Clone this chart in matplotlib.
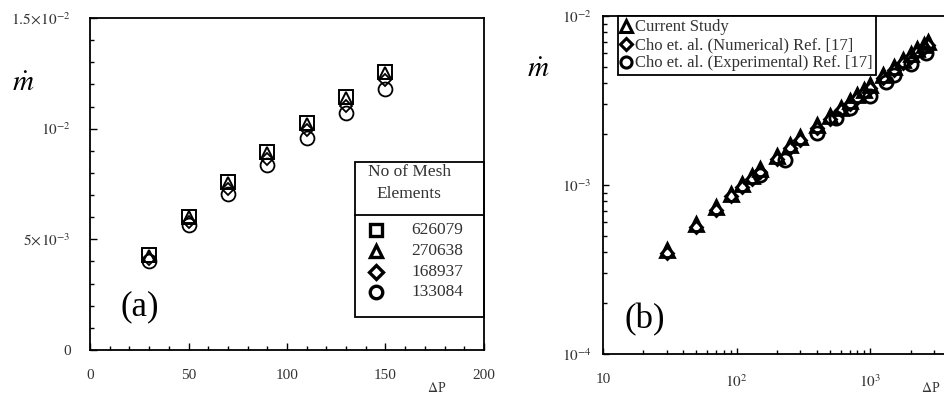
import matplotlib
matplotlib.use('Agg')
import matplotlib.pyplot as plt
from matplotlib.patches import Rectangle
from matplotlib.lines import Line2D
import numpy as np

plt.rcParams['font.family'] = ['Liberation Serif', 'DejaVu Serif']
plt.rcParams['mathtext.fontset'] = 'stix'

# (a) mesh independence study
dp_mesh = [30, 50, 70, 90, 110, 130, 150]
mesh_labels = ['626079', '270638', '168937', '133084']
m_626079 = [0.00430, 0.00603, 0.00757, 0.00893, 0.01026, 0.01142, 0.01255]
m_270638 = [0.00425, 0.00600, 0.00754, 0.00890, 0.01023, 0.01137, 0.01252]
m_168937 = [0.00410, 0.00580, 0.00727, 0.00864, 0.00992, 0.01104, 0.01219]
m_133084 = [0.00400, 0.00563, 0.00706, 0.00837, 0.00958, 0.01071, 0.01180]

# (b) validation against Cho et al.
dp_current = [30, 50, 70, 90, 110, 130, 150, 200, 250, 300, 400, 500, 600,
              700, 800, 900, 1000, 1250, 1500, 1750, 2000, 2250, 2500, 2700]
m_current = [4.10e-4, 5.85e-4, 7.40e-4, 8.85e-4, 1.01e-3, 1.13e-3, 1.25e-3,
             1.49e-3, 1.72e-3, 1.92e-3, 2.25e-3, 2.57e-3, 2.87e-3, 3.15e-3,
             3.41e-3, 3.66e-3, 3.90e-3, 4.46e-3, 4.98e-3, 5.46e-3, 5.92e-3,
             6.35e-3, 6.77e-3, 7.05e-3]
dp_num = [30, 50, 70, 90, 110, 130, 150, 200, 250, 300, 400, 500, 600,
          700, 800, 900, 1000, 1250, 1500, 1750, 2000, 2250, 2500, 2700]
m_num = [3.95e-4, 5.65e-4, 7.15e-4, 8.55e-4, 9.75e-4, 1.09e-3, 1.20e-3,
         1.43e-3, 1.65e-3, 1.85e-3, 2.17e-3, 2.47e-3, 2.76e-3, 3.03e-3,
         3.28e-3, 3.52e-3, 3.75e-3, 4.29e-3, 4.79e-3, 5.25e-3, 5.69e-3,
         6.10e-3, 6.50e-3, 6.78e-3]
dp_exp = [150, 230, 400, 550, 700, 1000, 1300, 1500, 2000, 2600]
m_exp = [1.15e-3, 1.41e-3, 2.03e-3, 2.48e-3, 2.85e-3, 3.34e-3, 4.05e-3,
         4.45e-3, 5.20e-3, 6.00e-3]

fig = plt.figure(figsize=(9.44, 3.96), dpi=100)

# ---------- panel (a) ----------
ax1 = fig.add_axes([90/944, 46/396, 394/944, 332/396])
kw = dict(ls='none', mfc='none', mec='black', color='black')
ax1.plot(dp_mesh, m_626079, marker='s', ms=10, mew=1.4, **kw)
ax1.plot(dp_mesh, m_270638, marker='^', ms=8, mew=1.4, **kw)
ax1.plot(dp_mesh, m_168937, marker='D', ms=6.5, mew=1.3, **kw)
ax1.plot(dp_mesh, m_133084, marker='o', ms=10, mew=1.3, **kw)

ax1.set_xlim(0, 200)
ax1.set_ylim(0, 0.015)
ax1.set_xticks([0, 50, 100, 150, 200])
ax1.set_xticks(np.arange(0, 201, 10), minor=True)
ax1.set_yticks([0, 0.005, 0.01, 0.015])
ax1.set_yticklabels(['0', r'$5\!\times\!10^{-3}$', r'$10^{-2}$', r'$1.5\!\times\!10^{-2}$'])
ax1.set_yticks(np.arange(0, 0.0151, 0.001), minor=True)
ax1.tick_params(which='both', direction='in', colors='black', labelcolor='#333333',
                labelsize=11)
ax1.tick_params(axis='x', which='both', pad=14)
ax1.tick_params(axis='y', which='both', pad=14)
ax1.tick_params(which='major', length=5, width=1)
ax1.tick_params(which='minor', length=3, width=1)
for s in ax1.spines.values():
    s.set_linewidth(1.3)

ax1.text(-0.17, 0.80, r'$\dot{m}$', transform=ax1.transAxes, fontsize=21,
         ha='center', va='center')
ax1.text(0.88, -0.115, r'$\Delta$P', transform=ax1.transAxes, fontsize=10,
         ha='center', va='center', color='#333333')
ax1.text(0.125, 0.13, '(a)', transform=ax1.transAxes, fontsize=25,
         ha='center', va='center')

# legend box with title row
ax1.add_patch(Rectangle((0.6726, 0.0994), 0.3274, 0.4669, transform=ax1.transAxes,
                        fill=False, ec='black', lw=1.3, clip_on=False))
ax1.plot([0.6726, 1.0], [0.4066, 0.4066], transform=ax1.transAxes, color='black', lw=1.3)
ax1.text(0.81, 0.535, 'No of Mesh', transform=ax1.transAxes, fontsize=12.5,
         ha='center', va='center', color='#333333')
ax1.text(0.81, 0.470, 'Elements', transform=ax1.transAxes, fontsize=12.5,
         ha='center', va='center', color='#333333')
leg_markers = [('s', 9), ('^', 9), ('D', 7), ('o', 9)]
leg_rows = [0.3614, 0.2982, 0.2349, 0.1747]
for (mk, sz), lab, yy in zip(leg_markers, mesh_labels, leg_rows):
    ax1.plot([0.725], [yy], transform=ax1.transAxes, marker=mk, ms=sz, mew=2.4,
             mfc='none', mec='black', clip_on=False)
    ax1.text(0.882, yy, lab, transform=ax1.transAxes, fontsize=12.5,
             ha='center', va='center', color='#333333')

# ---------- panel (b) ----------
ax2 = fig.add_axes([603/944, 42/396, 401/944, 338/396])
ax2.set_xscale('log')
ax2.set_yscale('log')
ax2.plot(dp_current, m_current, marker='^', ms=9.5, mew=2.0, **kw)
ax2.plot(dp_num, m_num, marker='D', ms=6.5, mew=2.0, **kw)
ax2.plot(dp_exp, m_exp, marker='o', ms=9.5, mew=2.0, **kw)

ax2.set_xlim(10, 1e4)
ax2.set_ylim(1e-4, 1e-2)
ax2.set_xticks([10, 100, 1000])
ax2.set_xticklabels(['10', r'$10^{2}$', r'$10^{3}$'])
ax2.set_yticks([1e-4, 1e-3, 1e-2])
ax2.set_yticklabels([r'$10^{-4}$', r'$10^{-3}$', r'$10^{-2}$'])
ax2.tick_params(which='both', direction='in', colors='black', labelcolor='#333333',
                labelsize=11)
ax2.tick_params(axis='x', which='both', pad=14)
ax2.tick_params(axis='y', which='both', pad=8)
ax2.tick_params(which='major', length=4, width=1)
ax2.tick_params(which='minor', length=3, width=1)
for s in ax2.spines.values():
    s.set_linewidth(1.3)

ax2.text(-0.162, 0.84, r'$\dot{m}$', transform=ax2.transAxes, fontsize=21,
         ha='center', va='center')
ax2.text(0.818, -0.10, r'$\Delta$P', transform=ax2.transAxes, fontsize=10,
         ha='center', va='center', color='#333333')
ax2.text(0.105, 0.1, '(b)', transform=ax2.transAxes, fontsize=25,
         ha='center', va='center')

hl1 = Line2D([], [], ls='none', marker='^', ms=8, mew=2.2, mfc='none', mec='black')
hl2 = Line2D([], [], ls='none', marker='D', ms=6, mew=2.2, mfc='none', mec='black')
hl3 = Line2D([], [], ls='none', marker='o', ms=8, mew=2.2, mfc='none', mec='black')
leg = ax2.legend([hl1, hl2, hl3],
                 ['Current Study', 'Cho et. al. (Numerical) Ref. [17]',
                  'Cho et. al. (Experimental) Ref. [17]'],
                 loc='upper left', bbox_to_anchor=(0.037, 1.0), fontsize=12,
                 frameon=True, fancybox=False, edgecolor='black', framealpha=1,
                 borderpad=0.2, borderaxespad=0, handlelength=0.6,
                 handletextpad=0.25, labelspacing=0.12)
leg.get_frame().set_linewidth(1.3)
for t in leg.get_texts():
    t.set_color('#333333')

fig.savefig('out.png', dpi=100)
